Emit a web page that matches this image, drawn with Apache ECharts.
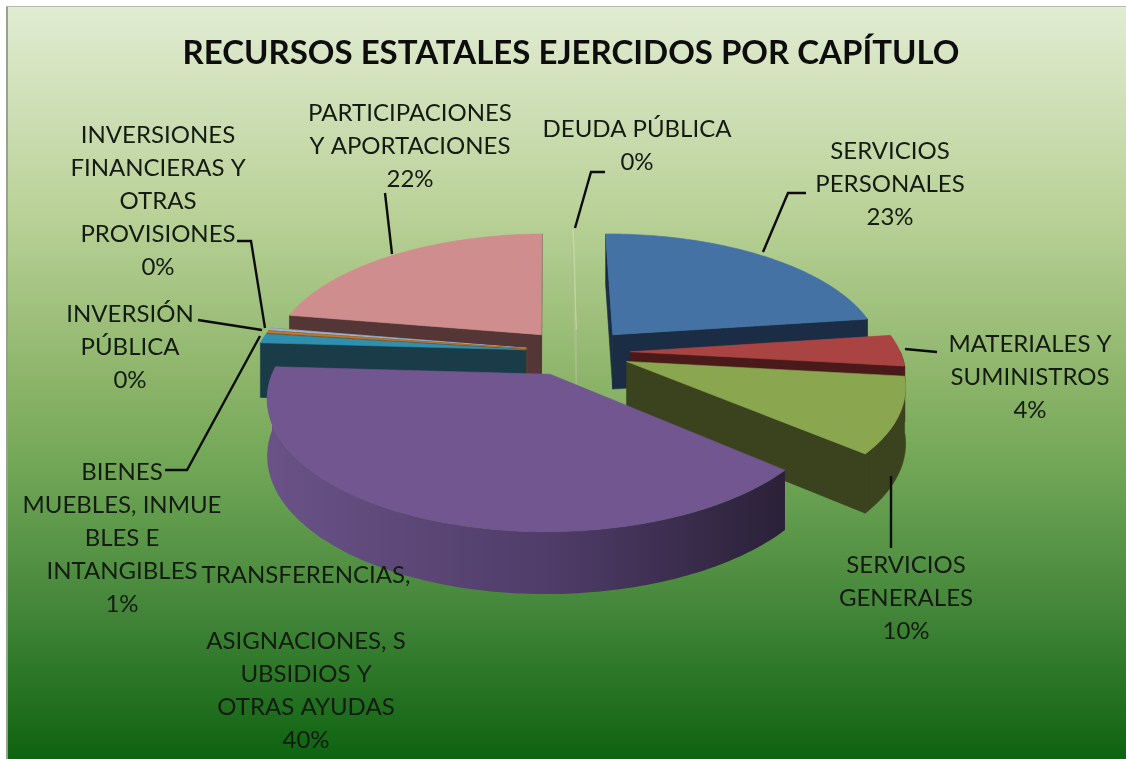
<!DOCTYPE html>
<html><head><meta charset="utf-8">
<style>html,body{margin:0;padding:0;background:#fff}#c{width:1126px;height:759px;filter:blur(0.7px)}</style>
<script src="https://cdn.jsdelivr.net/npm/echarts@6/dist/echarts.min.js"></script>
</head><body><div id="c"></div>
<script>
const titleText = 'RECURSOS ESTATALES EJERCIDOS POR CAPÍTULO';
const categories = ['DEUDA PÚBLICA','SERVICIOS\nPERSONALES','MATERIALES Y\nSUMINISTROS','SERVICIOS\nGENERALES','TRANSFERENCIAS,\n\nASIGNACIONES, S\nUBSIDIOS Y\nOTRAS AYUDAS','BIENES\nMUEBLES, INMUE\nBLES E\nINTANGIBLES','INVERSIÓN\nPÚBLICA','INVERSIONES\nFINANCIERAS Y\nOTRAS\nPROVISIONES','PARTICIPACIONES\nY APORTACIONES'];
const values = [0.1,23,4,9.5,39.6,1.2,0.3,0.3,22];
const topColors = ['#c6d9a4','#4472a5','#a94442','#8aa64e','#71568f','#2f8fae','#c0782a','#9db4d2','#d08d8d'];
const sideColors = ['#a9c088','#1a2d44','#4a1a1a','#3a431e','#4d3a63','#1a3c48','#6a3f12','#5a6a80','#543636'];
const rimPurple = ['#6a5287','#4f3c68','#2a2138'];
const sliceNudgeX = [-2,1,0,0,-9,-2,-2,-2,-5];
const labelAt = [[637,113],[890,135],[1030,328],[906,549],[306,559],[122,456],[130,298],[158,119],[410,97]];
const leaders = [
 [[605,172],[591,172],[575,228]],
 [[806,193],[788,193],[763,252]],
 [[905,349],[937,352]],
 [[891,476],[891,548]],
 [[392,254],[385,193]],
 [[198,320],[262,330]],
 [[237,241],[251,241],[265,328]],
 [[165,470],[187,470],[260,336]]
];
// projection of the tilted disc
const cx=579, cy=352, R=270, q=0.455, f=6, explode=0.19, depth=55, start=-1*Math.PI/180;
const total = values.reduce((a,b)=>a+b,0);
function proj(u,v,z){ const s=f/(f+v); return [cx+R*u*s, cy-R*q*v*s+z*(0.45+0.55*s)]; }
const spans=[]; { let c=0; values.forEach(v=>{ spans.push([start+c/total*2*Math.PI,start+(c+v)/total*2*Math.PI]); c+=v; }); }
function area(p){let a=0;p.forEach((pt,i)=>{const n=p[(i+1)%p.length];a+=pt[0]*n[1]-n[0]*pt[1];});return a;}
function renderSlice(params, api){
  const i=params.dataIndex, a0=spans[i][0], a1=spans[i][1], mid=(a0+a1)/2;
  const au=explode*Math.sin(mid), av=explode*Math.cos(mid);
  const arc=(z,from,to)=>{const n=Math.max(1,Math.ceil((to-from)/0.02));const out=[];for(let k=0;k<=n;k++){const t=from+(to-from)*k/n;out.push(proj(au+Math.sin(t),av+Math.cos(t),z));}return out;};
  const top=[proj(au,av,0)].concat(arc(0,a0,a1));
  const fill=(pts,c,z2)=>({type:'polygon',shape:{points:pts},z2:z2,style:{fill:c,stroke:typeof c==='string'?c:null,lineWidth:0.6}});
  const rank=spans.map((s,j)=>Math.cos((s[0]+s[1])/2)).map((c,j)=>[c,j]).sort((x,y)=>y[0]-x[0]).findIndex(e=>e[1]===i);
  const base=(rank+1)*10, kids=[];
  const side=i===4?new echarts.graphic.LinearGradient(0,0,1,0,[{offset:0,color:rimPurple[0]},{offset:0.55,color:rimPurple[1]},{offset:1,color:rimPurple[2]}]):sideColors[i];
  const ap0=proj(au,av,0), apD=proj(au,av,depth);
  [a0,a1].forEach((t,w)=>{
    const e0=proj(au+Math.sin(t),av+Math.cos(t),0), e1=proj(au+Math.sin(t),av+Math.cos(t),depth);
    const pts=[ap0,e0,e1,apD];
    const facing = w===0 ? area(pts)<0 : area(pts)>0;
    if(facing || values[i]<0.5) kids.push(fill(pts,sideColors[i],base+2));
  });
  const lo=Math.max(a0,Math.PI/2), hi=Math.min(a1,Math.PI*1.5);
  if(hi>lo){ const up=arc(0,lo,hi), dn=arc(depth,lo,hi).reverse(); kids.push(fill(up.concat(dn),side,base+3)); }
  kids.push(fill(top,topColors[i],base+5));
  return {type:'group',x:sliceNudgeX[i],children:kids};
}
const bg=new echarts.graphic.LinearGradient(0,0,0,1,[
 {offset:0,color:'#e1ecd2'},{offset:0.28,color:'#b9d197'},{offset:0.5,color:'#8cb469'},{offset:0.62,color:'#6fa555'},{offset:0.8,color:'#44863a'},{offset:1,color:'#0e6310'}]);
const graphics=[
 {type:'rect',z:-10,silent:true,shape:{x:7,y:6,width:1119,height:753},style:{fill:bg}},
 {type:'rect',z:-9,silent:true,shape:{x:6,y:6,width:2,height:753},style:{fill:'#9a9f96'}},
 {type:'rect',z:-9,silent:true,shape:{x:6,y:6,width:1120,height:1},style:{fill:'#b4b8ae'}}
];
categories.forEach((name,i)=>{
  const pct=Math.round(values[i]/total*100)+'%';
  graphics.push({type:'text',z:50,silent:true,x:labelAt[i][0],y:labelAt[i][1],style:{text:name+'\n'+pct,fill:'#141c12',fontFamily:'Lato',fontSize:24,lineHeight:33,align:'center',verticalAlign:'top'}});
});
leaders.forEach(l=>graphics.push({type:'polyline',z:40,silent:true,shape:{points:l},style:{fill:'none',stroke:'#0c0c0c',lineWidth:2.4}}));
const chart=echarts.init(document.getElementById('c'),null,{renderer:'canvas'});
chart.setOption({
  animation:false,
  title:{text:titleText,left:566,top:32,textAlign:'center',textStyle:{fontFamily:'Lato',fontWeight:'bold',fontSize:33,color:'#0d0d0d'}},
  graphic:graphics,
  series:[{type:'custom',coordinateSystem:'none',renderItem:renderSlice,data:values.map(v=>[v]),silent:true}]
});
</script></body></html>
